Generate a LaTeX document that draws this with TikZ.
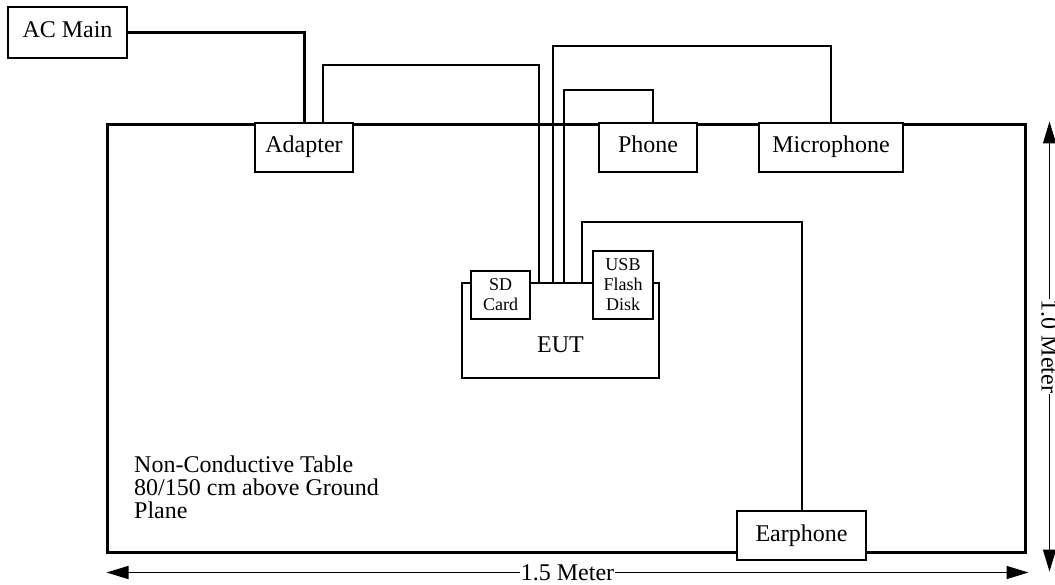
\documentclass[tikz,border=0pt]{standalone}
\usepackage{fontspec}
\setmainfont{Liberation Serif}
\usetikzlibrary{calc,arrows.meta}
\begin{document}
\begin{tikzpicture}[x=1pt,y=-1pt,
  box/.style={draw, line width=1.4pt, fill=white, inner sep=0pt, text height=16pt, text depth=5pt, font=\fontsize{24}{22}\selectfont},
  smallbox/.style={draw, line width=1.4pt, fill=white, inner sep=0pt, align=center, font=\fontsize{18}{20}\selectfont},
  wire/.style={line width=2pt},
  thickwire/.style={line width=3pt},
  tablebox/.style={draw, line width=3pt, inner sep=0pt},
  dim/.style={line width=1.4pt, {Triangle[length=22pt,width=13pt]}-{Triangle[length=22pt,width=13pt]}},
  dimlabel/.style={fill=white, inner sep=1pt, font=\fontsize{24}{22}\selectfont}]
\useasboundingbox (0,0) rectangle (1055,585);
% table
\node[tablebox, minimum width=918pt, minimum height=427pt] (table) at (566,338.5) {};
% boxes
\node[box, minimum width=119pt, minimum height=51pt] (acmain) at (67.5,32.5) {AC Main};
% wires
\draw[thickwire] (acmain.east) -| (304,123);
\node[box, minimum width=98pt, minimum height=49pt] (adapter) at (304,147.5) {Adapter};
\node[box, minimum width=98pt, minimum height=49pt] (phone) at (648,147.5) {Phone};
\node[box, minimum width=144pt, minimum height=49pt] (mic) at (831,147.5) {Microphone};
\node[box, minimum width=129pt, minimum height=49pt] (earphone) at (801.5,535.5) {Earphone};
\node[box, minimum width=197pt, minimum height=95pt] (eut) at (560.5,330.5) {};
\node[font=\fontsize{24}{22}\selectfont] (euttext) at (560.5,345) {EUT};
\node[smallbox, minimum width=59pt, minimum height=48pt] (sd) at (500.5,295) {SD\\Card};
\node[smallbox, minimum width=60pt, minimum height=68pt] (usb) at (623,285) {USB\\Flash\\Disk};
\draw[wire] ($(adapter.north)+(19,0)$) -- ++(0,-57) -| ($(eut.north)+(-21.5,0)$);
\draw[wire] ($(eut.north)+(-7.5,0)$) -- ++(0,-236) -| (mic.north);
\draw[wire] ($(eut.north)+(3.5,0)$) -- ++(0,-192) -| ($(phone.north)+(5,0)$);
\draw[wire] ($(eut.north)+(21.5,0)$) -- ++(0,-60) -| (earphone.north);
% table text
\node[anchor=north west, align=left, inner sep=0pt, font=\fontsize{24}{23}\selectfont] (tabletext) at (134,456)
  {Non-Conductive Table\\80/150 cm above Ground\\Plane};
% dimensions
\coordinate (bl) at ($(table.south west)+(1,19)$);
\coordinate (br) at ($(table.south east)+(2,19)$);
\draw[dim] (bl) -- node[dimlabel] (w) {1.5 Meter} (br);
\coordinate (rt) at ($(table.north east)+(23,-2)$);
\coordinate (rb) at ($(table.south east)+(23,18)$);
\draw[dim] (rt) -- node[dimlabel, rotate=-90] (h) {1.0 Meter} (rb);
\end{tikzpicture}
\end{document}
